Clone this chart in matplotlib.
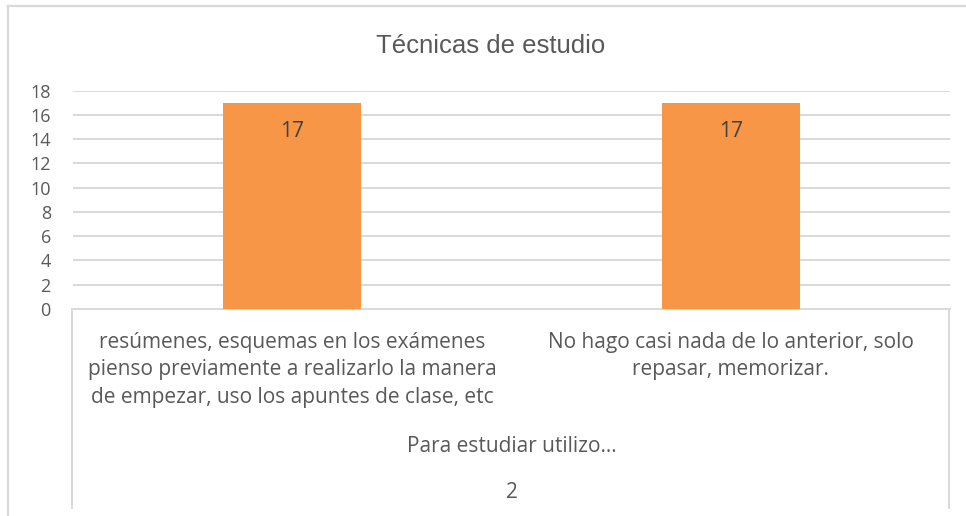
import matplotlib
matplotlib.use("Agg")
import matplotlib.pyplot as plt
from matplotlib.lines import Line2D
from matplotlib.transforms import blended_transform_factory

# data
categories = [
    "resúmenes, esquemas en los exámenes\npienso previamente a realizarlo la manera\nde empezar, uso los apuntes de clase, etc",
    "No hago casi nada de lo anterior, solo\nrepasar, memorizar.",
]
values = [17, 17]
group_label = "Para estudiar utilizo…"
outer_label = "2"
title = "Técnicas de estudio"
yticks = [0, 2, 4, 6, 8, 10, 12, 14, 16, 18]

W, H = 966, 516
BAR = "#F79646"
GRID = "#D9D9D9"
TXT = "#595959"

plt.rcParams["font.family"] = ["Open Sans", "DejaVu Sans"]

fig = plt.figure(figsize=(W / 100, H / 100), dpi=100)
ax = fig.add_axes([73 / W, (H - 309) / H, 877 / W, (309 - 90.6) / H])

x = list(range(len(categories)))
bars = ax.bar(x, values, width=0.315, color=BAR, zorder=3)
for b, v in zip(bars, values):
    ax.text(b.get_x() + b.get_width() / 2, v - 2.35, str(v), ha="center",
            va="center", fontsize=15, color="#404040", zorder=4)

ax.set_xlim(-0.5, 1.5)
ax.set_ylim(0, 18)
ax.set_yticks(yticks)
ax.set_xticks([])
ax.tick_params(axis="y", length=0, pad=16, labelsize=13, labelcolor=TXT)
ax.yaxis.grid(True, color=GRID, linewidth=1.4, zorder=0)
for s in ["top", "right", "left"]:
    ax.spines[s].set_visible(False)
ax.spines["bottom"].set_color(GRID)
ax.spines["bottom"].set_linewidth(1.4)

# category labels below axis
tr = blended_transform_factory(ax.transData, fig.transFigure)
label_y = [(H - 370) / H, (H - 356) / H]
for xi, lab, ly in zip(x, categories, label_y):
    ax.text(xi, ly, lab, transform=tr, ha="center", va="center",
            fontsize=15, color=TXT, linespacing=1.4)
ax.text(0.5, (H - 447) / H, group_label, transform=tr, ha="center",
        va="center", fontsize=15, color=TXT)
ax.text(0.5, (H - 492) / H, outer_label, transform=tr, ha="center",
        va="center", fontsize=15, color=TXT)

# category box sides
for px in (72, 949):
    fig.add_artist(Line2D([px / W, px / W], [(H - 309) / H, (H - 508) / H],
                          color=GRID, linewidth=1.4))

# chart border
fig.add_artist(Line2D([8 / W, 8 / W], [0, (H - 6) / H], color=GRID, linewidth=1.6))
fig.add_artist(Line2D([8 / W, 1], [(H - 6) / H, (H - 6) / H], color=GRID, linewidth=1.6))

fig.text(491 / W, (H - 46) / H, title, ha="center", va="center",
         fontsize=18.5, color=TXT, family=["Liberation Sans", "DejaVu Sans"])

fig.savefig("out.png", dpi=100)
